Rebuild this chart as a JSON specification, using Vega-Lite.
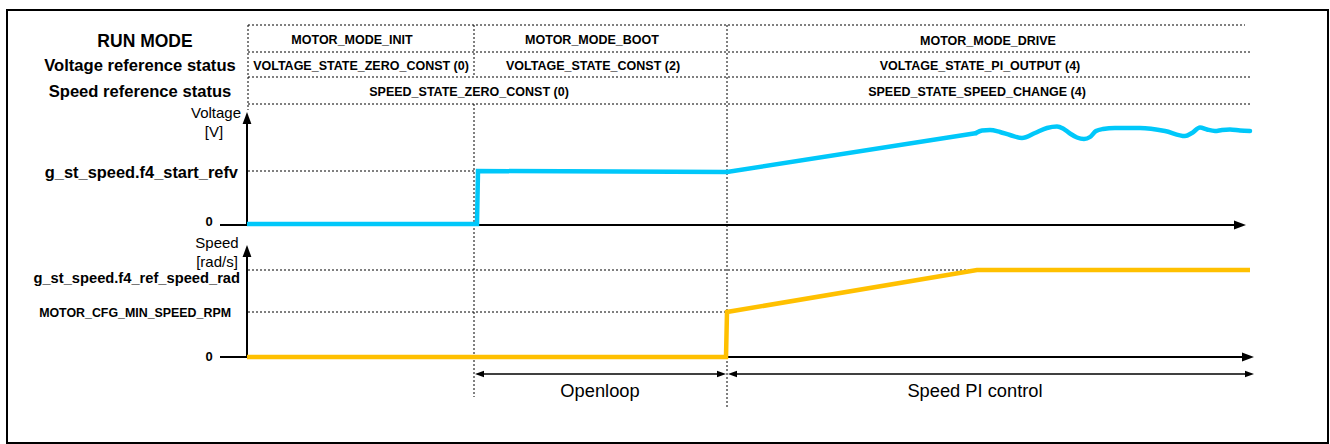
{
  "$schema": "https://vega.github.io/schema/vega-lite/v6.json",
  "width": 1330,
  "height": 444,
  "autosize": {"type": "fit", "contains": "padding"},
  "padding": 0,
  "background": "white",
  "config": {"view": {"stroke": null}, "text": {"font": "Liberation Sans"}},
  "datasets": {
    "frame": [{"x": 7, "y": 10, "x2": 1328, "y2": 443}],
    "grid": [
      {"x": 248, "y": 25, "x2": 1245, "y2": 25},
      {"x": 248, "y": 52, "x2": 1250, "y2": 52},
      {"x": 248, "y": 77, "x2": 1250, "y2": 77},
      {"x": 248, "y": 104, "x2": 1250, "y2": 104},
      {"x": 248, "y": 25, "x2": 248, "y2": 110},
      {"x": 474, "y": 25, "x2": 474, "y2": 77},
      {"x": 474, "y": 104, "x2": 474, "y2": 397},
      {"x": 727, "y": 25, "x2": 727, "y2": 407},
      {"x": 248, "y": 171, "x2": 727, "y2": 171},
      {"x": 248, "y": 270, "x2": 1250, "y2": 270},
      {"x": 248, "y": 312, "x2": 727, "y2": 312}
    ],
    "axes": [
      {"x": 247, "y": 225, "x2": 247, "y2": 118, "kind": "axis"},
      {"x": 220, "y": 225, "x2": 1240, "y2": 225, "kind": "axis"},
      {"x": 247, "y": 357, "x2": 247, "y2": 251, "kind": "axis"},
      {"x": 220, "y": 357, "x2": 1248, "y2": 357, "kind": "axis"},
      {"x": 478, "y": 374, "x2": 723, "y2": 374, "kind": "dim"},
      {"x": 731, "y": 374, "x2": 1250, "y2": 374, "kind": "dim"}
    ],
    "arrows": [
      {"x": 247, "y": 112, "dir": "up", "kind": "axis"},
      {"x": 247, "y": 245, "dir": "up", "kind": "axis"},
      {"x": 1246, "y": 225, "dir": "right", "kind": "axis"},
      {"x": 1254, "y": 357, "dir": "right", "kind": "axis"},
      {"x": 475, "y": 374, "dir": "left", "kind": "dim"},
      {"x": 726, "y": 374, "dir": "right", "kind": "dim"},
      {"x": 728, "y": 374, "dir": "left", "kind": "dim"},
      {"x": 1254, "y": 374, "dir": "right", "kind": "dim"}
    ],
    "signals": [
      {"signal": "voltage", "i": 0, "x": 247, "y": 224},
      {"signal": "voltage", "i": 1, "x": 477, "y": 224},
      {"signal": "voltage", "i": 2, "x": 478, "y": 171},
      {"signal": "voltage", "i": 3, "x": 727, "y": 172},
      {"signal": "voltage", "i": 4, "x": 977, "y": 133},
      {"signal": "speed", "i": 0, "x": 247, "y": 357},
      {"signal": "speed", "i": 1, "x": 726, "y": 357},
      {"signal": "speed", "i": 2, "x": 727, "y": 312},
      {"signal": "speed", "i": 3, "x": 977, "y": 270},
      {"signal": "speed", "i": 4, "x": 1250, "y": 270}
    ],
    "wave": [
      {"signal": "voltage", "x": 976, "y": 133},
      {"signal": "voltage", "x": 982, "y": 130.5},
      {"signal": "voltage", "x": 990, "y": 130},
      {"signal": "voltage", "x": 1000, "y": 132},
      {"signal": "voltage", "x": 1010, "y": 135},
      {"signal": "voltage", "x": 1022, "y": 138},
      {"signal": "voltage", "x": 1035, "y": 133},
      {"signal": "voltage", "x": 1047, "y": 128},
      {"signal": "voltage", "x": 1057, "y": 126.5},
      {"signal": "voltage", "x": 1063, "y": 128.5},
      {"signal": "voltage", "x": 1070, "y": 133.5},
      {"signal": "voltage", "x": 1077, "y": 137.5},
      {"signal": "voltage", "x": 1084, "y": 139},
      {"signal": "voltage", "x": 1090, "y": 137},
      {"signal": "voltage", "x": 1096, "y": 131},
      {"signal": "voltage", "x": 1103, "y": 129},
      {"signal": "voltage", "x": 1115, "y": 128},
      {"signal": "voltage", "x": 1140, "y": 128},
      {"signal": "voltage", "x": 1165, "y": 131},
      {"signal": "voltage", "x": 1185, "y": 136},
      {"signal": "voltage", "x": 1192, "y": 133},
      {"signal": "voltage", "x": 1200, "y": 127.5},
      {"signal": "voltage", "x": 1207, "y": 129.5},
      {"signal": "voltage", "x": 1215, "y": 131},
      {"signal": "voltage", "x": 1222, "y": 130},
      {"signal": "voltage", "x": 1230, "y": 129.5},
      {"signal": "voltage", "x": 1240, "y": 130.5},
      {"signal": "voltage", "x": 1250, "y": 131}
    ],
    "labels": [
      {"text": "RUN MODE", "x": 145, "y": 42, "role": "header"},
      {"text": "Voltage reference status", "x": 140, "y": 66, "role": "rowlabel"},
      {"text": "Speed reference status", "x": 140, "y": 92, "role": "rowlabel"},
      {"text": "MOTOR_MODE_INIT", "x": 352, "y": 40, "role": "cell"},
      {"text": "MOTOR_MODE_BOOT", "x": 592, "y": 40, "role": "cell"},
      {"text": "MOTOR_MODE_DRIVE", "x": 988, "y": 41, "role": "cell"},
      {"text": "VOLTAGE_STATE_ZERO_CONST (0)", "x": 361, "y": 66, "role": "cell"},
      {"text": "VOLTAGE_STATE_CONST (2)", "x": 593, "y": 66, "role": "cell"},
      {"text": "VOLTAGE_STATE_PI_OUTPUT (4)", "x": 980, "y": 66, "role": "cell"},
      {"text": "SPEED_STATE_ZERO_CONST (0)", "x": 469, "y": 92, "role": "cell"},
      {"text": "SPEED_STATE_SPEED_CHANGE (4)", "x": 977, "y": 92, "role": "cell"},
      {"text": "Voltage", "x": 216, "y": 113, "role": "unit"},
      {"text": "[V]", "x": 214, "y": 132, "role": "unit"},
      {"text": "Speed", "x": 217, "y": 243, "role": "unit"},
      {"text": "[rad/s]", "x": 217, "y": 262, "role": "unit"},
      {"text": "g_st_speed.f4_start_refv", "x": 238, "y": 173, "role": "level"},
      {"text": "g_st_speed.f4_ref_speed_rad", "x": 240, "y": 279, "role": "level2"},
      {"text": "MOTOR_CFG_MIN_SPEED_RPM", "x": 231, "y": 313, "role": "levelsmall"},
      {"text": "0", "x": 209, "y": 222, "role": "zero"},
      {"text": "0", "x": 209, "y": 357, "role": "zero"},
      {"text": "Openloop", "x": 600, "y": 392, "role": "phase"},
      {"text": "Speed PI control", "x": 975, "y": 392, "role": "phase"}
    ]
  },
  "encoding": {
    "x": {"field": "x", "type": "quantitative", "axis": null, "scale": {"domain": [0, 1330], "nice": false, "zero": false}},
    "y": {"field": "y", "type": "quantitative", "axis": null, "scale": {"domain": [0, 444], "nice": false, "zero": false, "reverse": true}}
  },
  "layer": [
    {
      "data": {"name": "frame"},
      "mark": {"type": "rect", "fill": null, "stroke": "black", "strokeWidth": 2},
      "encoding": {"x2": {"field": "x2"}, "y2": {"field": "y2"}}
    },
    {
      "data": {"name": "grid"},
      "mark": {"type": "rule", "color": "#000", "strokeWidth": 1, "strokeDash": [2, 2]},
      "encoding": {"x2": {"field": "x2"}, "y2": {"field": "y2"}}
    },
    {
      "data": {"name": "axes"},
      "transform": [{"filter": "datum.kind == 'axis'"}],
      "mark": {"type": "rule", "color": "black", "strokeWidth": 2},
      "encoding": {"x2": {"field": "x2"}, "y2": {"field": "y2"}}
    },
    {
      "data": {"name": "axes"},
      "transform": [{"filter": "datum.kind == 'dim'"}],
      "mark": {"type": "rule", "color": "black", "strokeWidth": 1.5},
      "encoding": {"x2": {"field": "x2"}, "y2": {"field": "y2"}}
    },
    {
      "data": {"name": "signals"},
      "mark": {"type": "line", "strokeWidth": 4.5, "strokeJoin": "miter", "strokeCap": "butt"},
      "encoding": {
        "color": {"field": "signal", "type": "nominal", "legend": null, "scale": {"domain": ["voltage", "speed"], "range": ["#00C8FA", "#FFC000"]}},
        "order": {"field": "i", "type": "quantitative"}
      }
    },
    {
      "data": {"name": "wave"},
      "mark": {"type": "line", "strokeWidth": 4.5, "interpolate": "monotone", "strokeCap": "round"},
      "encoding": {
        "color": {"field": "signal", "type": "nominal", "legend": null, "scale": {"domain": ["voltage", "speed"], "range": ["#00C8FA", "#FFC000"]}}
      }
    },
    {
      "data": {"name": "arrows"},
      "transform": [{"filter": "datum.kind == 'axis'"}],
      "mark": {"type": "point", "filled": true, "color": "black", "opacity": 1, "size": 64, "strokeWidth": 0},
      "encoding": {
        "shape": {"field": "dir", "type": "nominal", "legend": null, "scale": {"domain": ["up", "right", "left"], "range": ["M0,0L-1.1,3L1.1,3Z", "M0,0L-3,-1.1L-3,1.1Z", "M0,0L3,-1.1L3,1.1Z"]}}
      }
    },
    {
      "data": {"name": "arrows"},
      "transform": [{"filter": "datum.kind == 'dim'"}],
      "mark": {"type": "point", "filled": true, "color": "black", "opacity": 1, "size": 36, "strokeWidth": 0},
      "encoding": {
        "shape": {"field": "dir", "type": "nominal", "legend": null, "scale": {"domain": ["up", "right", "left"], "range": ["M0,0L-1.1,3L1.1,3Z", "M0,0L-3,-1.1L-3,1.1Z", "M0,0L3,-1.1L3,1.1Z"]}}
      }
    },
    {
      "data": {"name": "labels"},
      "transform": [{"filter": "datum.role == 'header'"}],
      "mark": {"type": "text", "fontSize": 17.5, "fontWeight": "bold", "align": "center", "baseline": "middle", "color": "black"},
      "encoding": {"text": {"field": "text"}}
    },
    {
      "data": {"name": "labels"},
      "transform": [{"filter": "datum.role == 'rowlabel'"}],
      "mark": {"type": "text", "fontSize": 16.6, "fontWeight": "bold", "align": "center", "baseline": "middle", "color": "black"},
      "encoding": {"text": {"field": "text"}}
    },
    {
      "data": {"name": "labels"},
      "transform": [{"filter": "datum.role == 'cell'"}],
      "mark": {"type": "text", "fontSize": 12.5, "fontWeight": "bold", "align": "center", "baseline": "middle", "color": "black"},
      "encoding": {"text": {"field": "text"}}
    },
    {
      "data": {"name": "labels"},
      "transform": [{"filter": "datum.role == 'unit'"}],
      "mark": {"type": "text", "fontSize": 15, "align": "center", "baseline": "middle", "color": "black"},
      "encoding": {"text": {"field": "text"}}
    },
    {
      "data": {"name": "labels"},
      "transform": [{"filter": "datum.role == 'level'"}],
      "mark": {"type": "text", "fontSize": 16.4, "fontWeight": "bold", "align": "right", "baseline": "middle", "color": "black"},
      "encoding": {"text": {"field": "text"}}
    },
    {
      "data": {"name": "labels"},
      "transform": [{"filter": "datum.role == 'level2'"}],
      "mark": {"type": "text", "fontSize": 14.7, "fontWeight": "bold", "align": "right", "baseline": "middle", "color": "black"},
      "encoding": {"text": {"field": "text"}}
    },
    {
      "data": {"name": "labels"},
      "transform": [{"filter": "datum.role == 'levelsmall'"}],
      "mark": {"type": "text", "fontSize": 12.4, "fontWeight": "bold", "align": "right", "baseline": "middle", "color": "black"},
      "encoding": {"text": {"field": "text"}}
    },
    {
      "data": {"name": "labels"},
      "transform": [{"filter": "datum.role == 'zero'"}],
      "mark": {"type": "text", "fontSize": 13, "fontWeight": "bold", "align": "center", "baseline": "middle", "color": "black"},
      "encoding": {"text": {"field": "text"}}
    },
    {
      "data": {"name": "labels"},
      "transform": [{"filter": "datum.role == 'phase'"}],
      "mark": {"type": "text", "fontSize": 18.3, "align": "center", "baseline": "middle", "color": "black"},
      "encoding": {"text": {"field": "text"}}
    }
  ]
}
